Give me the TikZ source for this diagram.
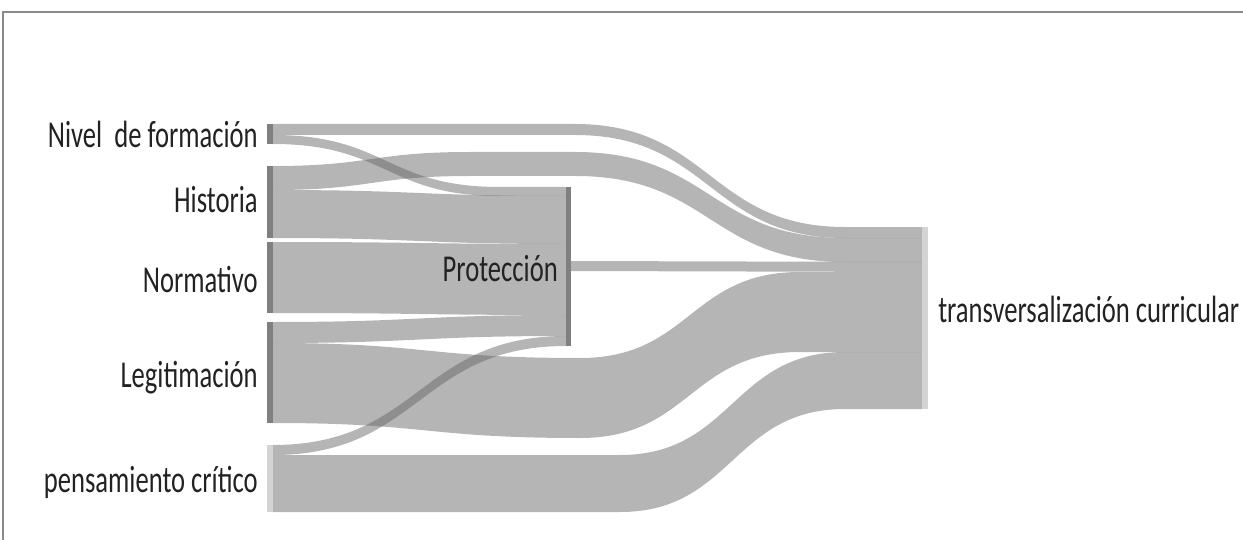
\documentclass[tikz,border=0pt]{standalone}
\usepackage{fontspec}
\usepackage{tikz}
\setmainfont{Carlito}
\definecolor{flowgray}{RGB}{100,100,100}
\definecolor{bargray}{RGB}{128,128,128}
\definecolor{barlight}{RGB}{212,212,212}
\definecolor{framegray}{RGB}{138,138,138}
\definecolor{labelink}{RGB}{34,34,34}
% one piece of a band: x0, x1, top0, bottom0, top1, bottom1
\newcommand{\seg}[6]{%
  (#1,#3) .. controls ({(#1+#2)/2},#3) and ({(#1+#2)/2},#5) .. (#2,#5)
  -- (#2,#6) .. controls ({(#1+#2)/2},#6) and ({(#1+#2)/2},#4) .. (#1,#4) -- cycle}

\begin{document}
\begin{tikzpicture}[x=0.5pt, y=-0.5pt,
  flow/.style={fill=flowgray, fill opacity=0.48},
  lbl/.style={font=\fontsize{19}{22}\selectfont, text=labelink, inner sep=0pt, xscale=0.7}]
\useasboundingbox (0,0) rectangle (1243,540);

% Frame
\draw[framegray, line width=1pt] (3,540) -- (3,12) -- (1243,12);

% Nivel de formacion
\fill[flow] \seg{273}{575}{124}{135}{124}{135} \seg{575}{845}{124}{135}{227}{238}
  \seg{845}{922}{227}{238}{227}{238};
\fill[flow] \seg{273}{500}{135}{144}{187}{196} \seg{500}{566}{187}{196}{187}{196};

% Historia
\fill[flow] \seg{273}{470}{166}{190}{152}{176} \seg{470}{575}{152}{176}{152}{176}
  \seg{575}{845}{152}{176}{238}{262} \seg{845}{922}{238}{262}{238}{262};
\fill[flow] \seg{273}{566}{190}{238}{196}{244};

% Normativo
\fill[flow] \seg{273}{566}{242}{313}{244}{315};

% Legitimacion
\fill[flow] \seg{273}{566}{322}{343}{315}{336};
\fill[flow] \seg{273}{580}{343}{423}{358}{438} \seg{580}{800}{358}{438}{272}{352}
  \seg{800}{922}{272}{352}{272}{352};

% pensamiento critico
\fill[flow] \seg{273}{566}{445}{455}{336}{346};
\fill[flow] \seg{273}{620}{455}{512}{455}{512} \seg{620}{845}{455}{512}{352}{409}
  \seg{845}{922}{352}{409}{352}{409};

% Proteccion
\fill[flow] \seg{571}{922}{261}{271}{262}{272};

% Bars
\fill[bargray] (267,124) rectangle (273,144);
\fill[bargray] (267,166) rectangle (273,238);
\fill[bargray] (267,242) rectangle (273,313);
\fill[bargray] (267,322) rectangle (273,423);
\fill[barlight] (267,445) rectangle (273,512);
\fill[bargray] (566,187) rectangle (571,346);
\fill[barlight] (922,227) rectangle (928,409);

% Labels
\node[lbl, anchor=base east] (nivel) at (258,148) {Nivel\ \ de formación};
\node[lbl, anchor=base east] (historia) at (258,213) {Historia};
\node[lbl, anchor=base east] (normativo) at (258,292) {Normativo};
\node[lbl, anchor=base east] (legit) at (258,387) {Legitimación};
\node[lbl, anchor=base east] (pensam) at (258,492) {pensamiento crítico};
\node[lbl, anchor=base east] (protec) at (558,281) {Protección};
\node[lbl, anchor=base west] (transv) at (938,322) {transversalización curricular};
\end{tikzpicture}
\end{document}
